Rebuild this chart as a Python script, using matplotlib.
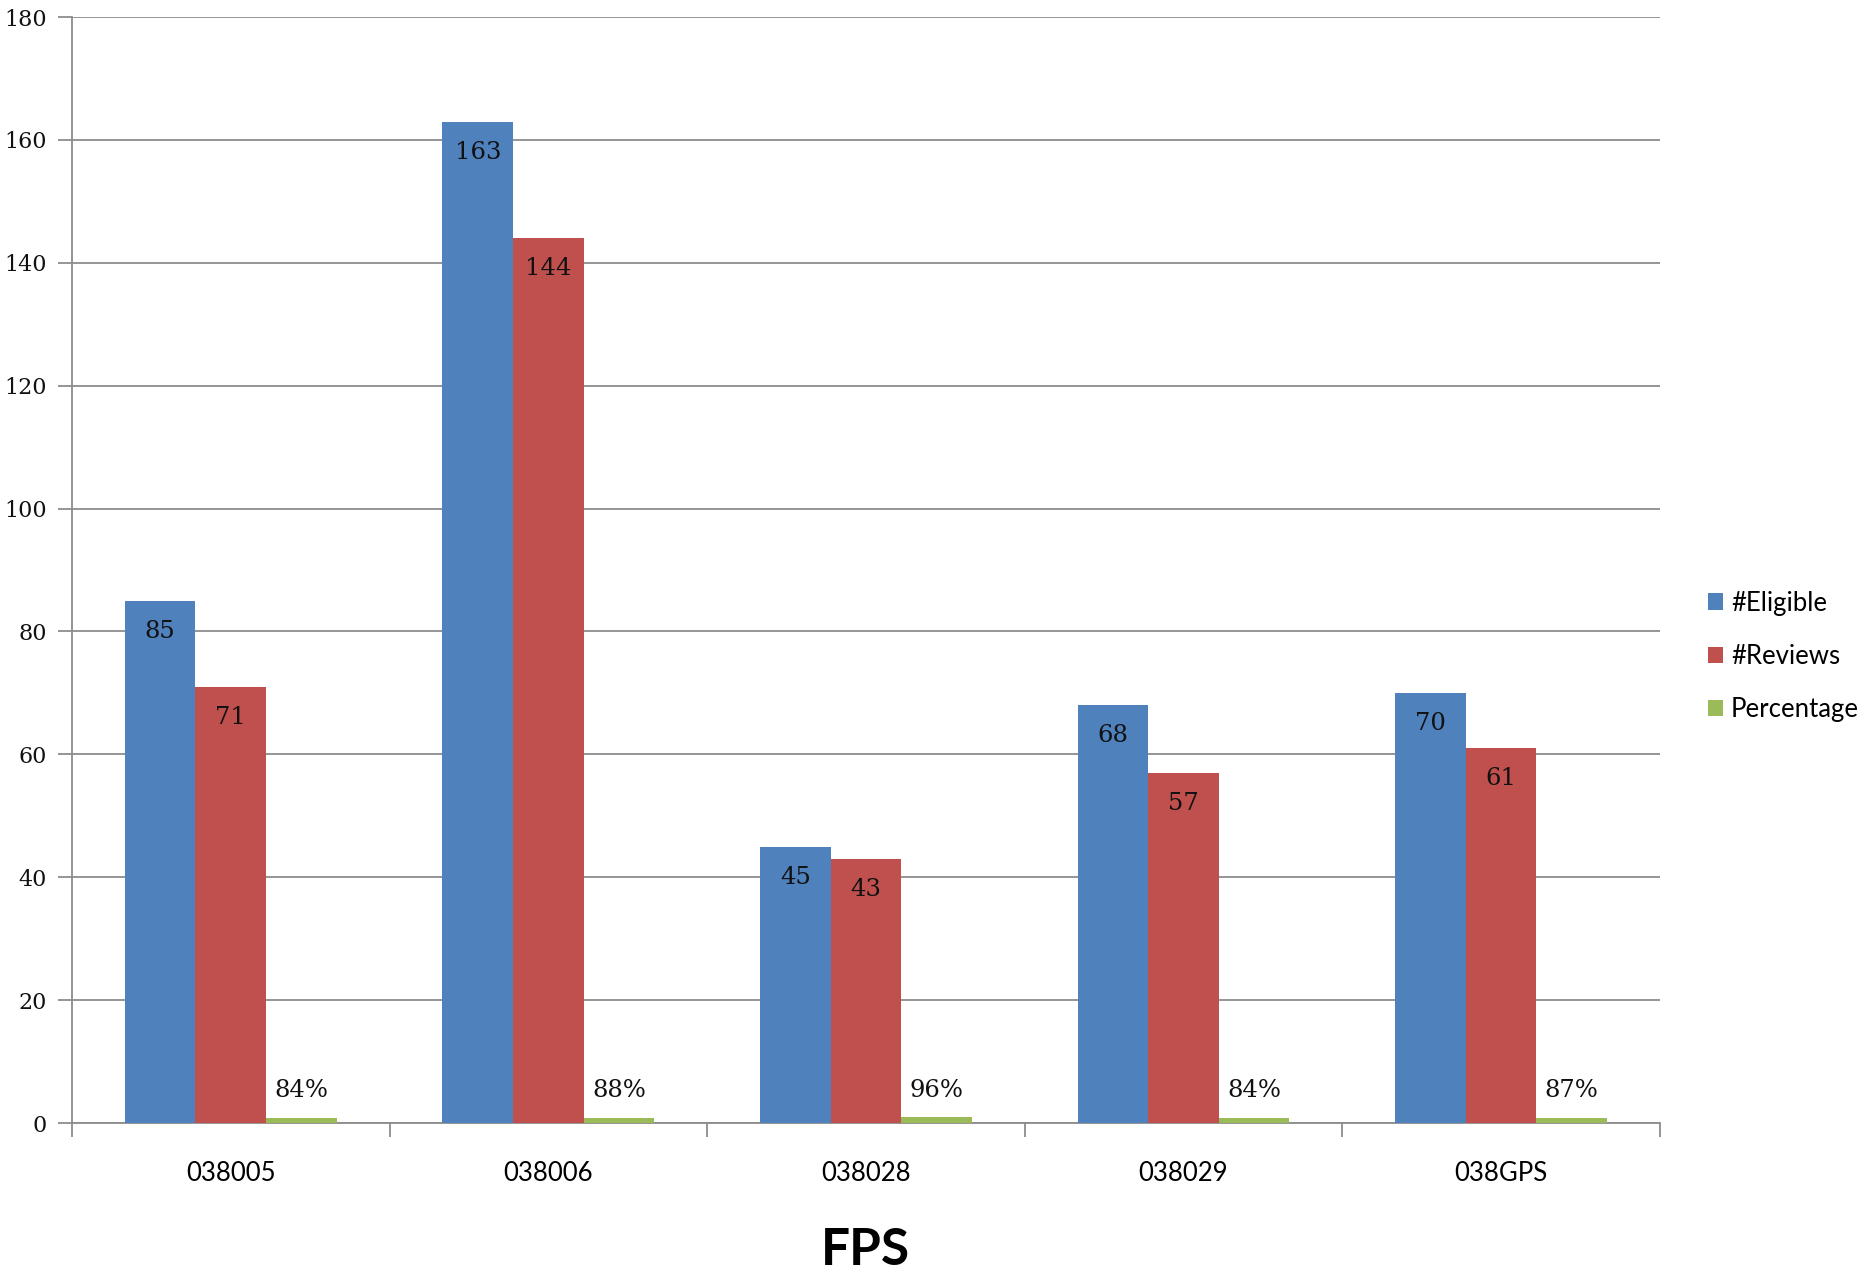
import numpy as np
import matplotlib.pyplot as plt

# data
categories = ["038005", "038006", "038028", "038029", "038GPS"]
eligible   = [85, 163, 45, 68, 70]
reviews    = [71, 144, 43, 57, 61]
percentage = [0.84, 0.88, 0.96, 0.84, 0.87]
pct_labels = ["84%", "88%", "96%", "84%", "87%"]

blue  = "#4F81BD"
red   = "#C0504D"
green = "#9BBB59"

fig = plt.figure(figsize=(18.65, 12.83), dpi=100)
ax = fig.add_axes([0.0386, 0.1247, 0.8514, 0.862])

x = np.arange(len(categories))
w = 2 / 9

b1 = ax.bar(x - w, eligible, w, color=blue, label="#Eligible", zorder=3)
b2 = ax.bar(x, reviews, w, color=red, label="#Reviews", zorder=3)
b3 = ax.bar(x + w, percentage, w, color=green, label="Percentage", zorder=3)

serif = "DejaVu Serif"
for bars, vals in [(b1, eligible), (b2, reviews)]:
    for r, v in zip(bars, vals):
        ax.text(r.get_x() + r.get_width() / 2, v - 5.0, str(v),
                ha="center", va="center", fontsize=17.5, family=serif,
                color="#111111", zorder=4)
for r, v, lab in zip(b3, percentage, pct_labels):
    ax.text(r.get_x() + r.get_width() / 2, v + 4.4, lab,
            ha="center", va="center", fontsize=17.5, family=serif,
            color="#111111", zorder=4)

ax.set_xlim(-0.5, len(categories) - 0.5)
ax.set_ylim(0, 180)
ax.set_yticks(np.arange(0, 181, 20))
ax.yaxis.grid(True, color="#8c8c8c", linewidth=1.3, zorder=0)
ax.set_axisbelow(True)

for s in ["top", "right"]:
    ax.spines[s].set_visible(False)
for s in ["left", "bottom"]:
    ax.spines[s].set_color("#8c8c8c")
    ax.spines[s].set_linewidth(1.3)

ax.tick_params(axis="y", length=10, width=1.3, color="#8c8c8c", pad=8)
for t in ax.get_yticklabels():
    t.set_family(serif)
    t.set_fontsize(16)
    t.set_color("#111111")

# category ticks sit between groups, labels at centres
ax.set_xticks(np.arange(-0.5, len(categories)), minor=False)
ax.set_xticklabels([""] * (len(categories) + 1))
ax.set_xticks(x, minor=True)
ax.set_xticklabels(categories, minor=True, fontsize=18.5, family="Lato")
ax.tick_params(axis="x", which="major", length=10, width=1.3, color="#8c8c8c")
ax.tick_params(axis="x", which="minor", length=0, pad=27)

ax.set_xlabel("FPS", fontsize=37, fontweight="bold", family="Lato", labelpad=30)

leg = ax.legend(loc="center left", bbox_to_anchor=(1.014, 0.422), frameon=False,
                prop={"family": "Lato", "size": 18.5}, handlelength=0.6,
                handleheight=0.6, handletextpad=0.3, labelspacing=1.1,
                borderaxespad=0.6)

fig.savefig("out.png", dpi=100)
